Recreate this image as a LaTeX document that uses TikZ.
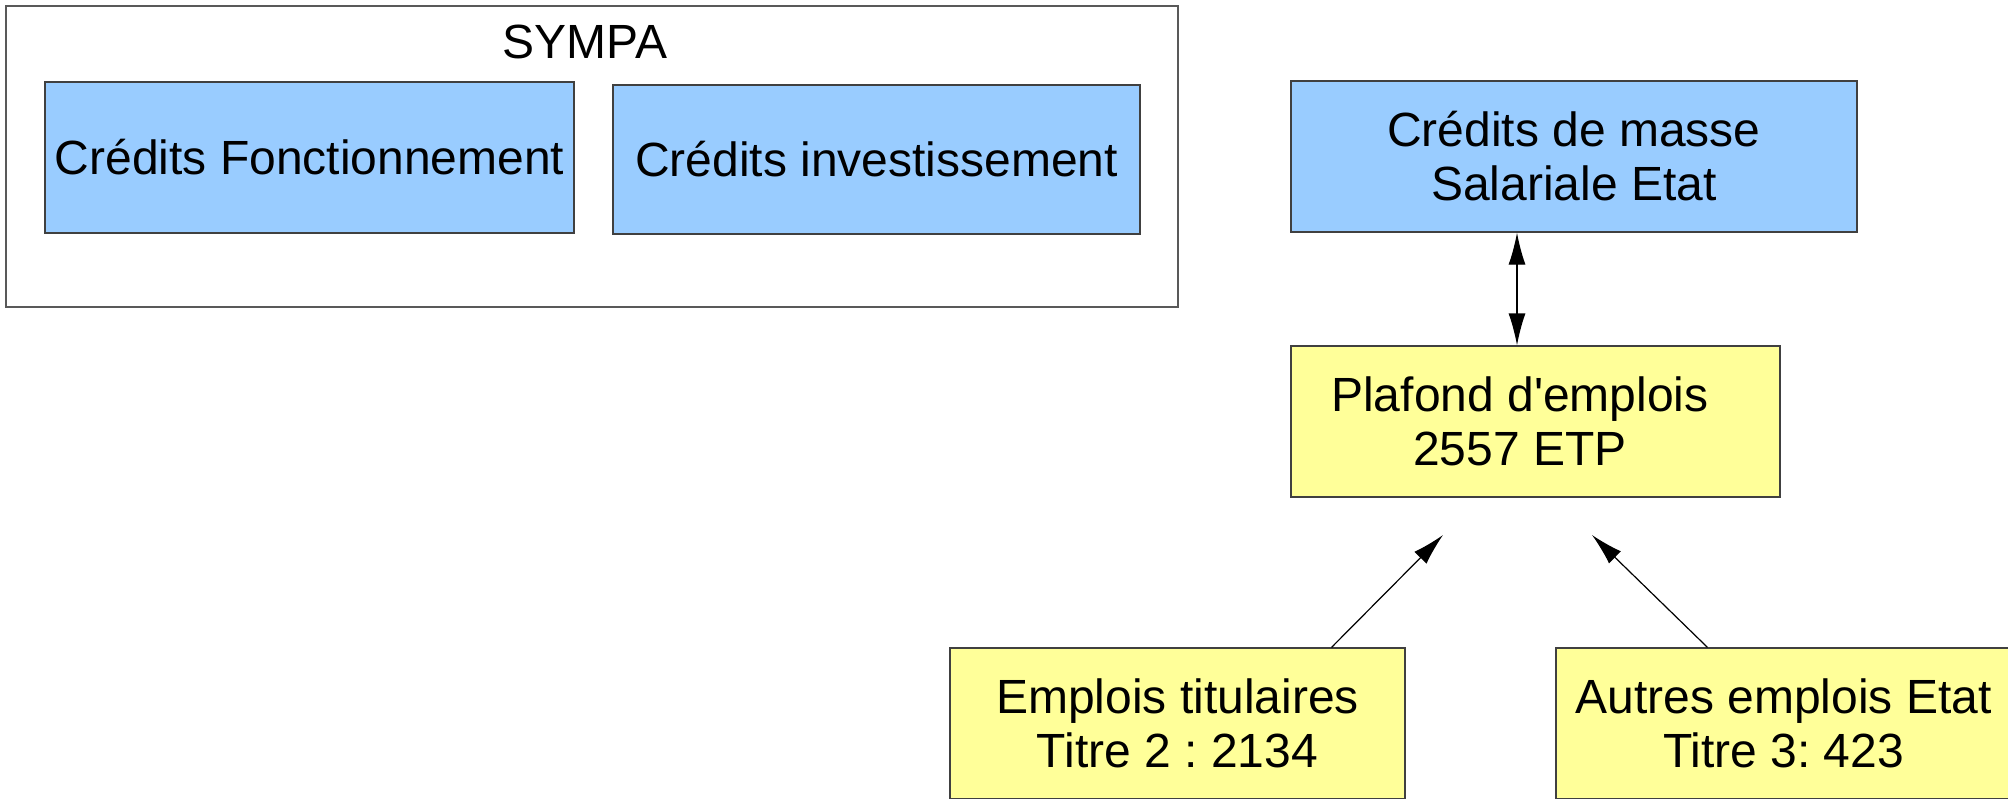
\documentclass[tikz,border=0pt]{standalone}
\usepackage{fontspec}
\setmainfont{Liberation Sans}[Ligatures=TeXOff]
\usetikzlibrary{arrows.meta}
\frenchspacing

\definecolor{bleuc}{RGB}{153,204,255}
\definecolor{jaunec}{RGB}{255,255,153}

\tikzset{every picture/.style={line width=0.6pt}}
\tikzset{
  boite/.style={draw=black!75, minimum width=#1, minimum height=75.5pt, inner sep=0pt, align=center, font=\fontsize{24}{27}\selectfont},
  credit/.style={boite=#1, fill=bleuc},
  emploi/.style={boite=#1, fill=jaunec},
  fleche/.style={-{Latex[length=16pt,width=8.5pt]}, black},
  dfleche/.style={{Latex[length=16pt,width=8.5pt]}-{Latex[length=16pt,width=8.5pt]}, black}
}

\begin{document}
\begin{tikzpicture}[x=0.5pt,y=0.5pt,yscale=-1,xscale=1]
\useasboundingbox (0,0) rectangle (2008,798);

%Shape: Rectangle SYMPA
\node [draw=black!65, minimum width=586pt, minimum height=150.5pt, inner sep=0pt] (sympa) at (592,156.5) {};
% Text Node
\node [anchor=north, inner sep=0pt, font=\fontsize{24}{27}\selectfont] (titre) at (585,24) {SYMPA};

%Shape: Rectangle
\node [credit=264.5pt] (fonct) at (309.5,157.5) {Crédits Fonctionnement};
%Shape: Rectangle
\node [credit=263.5pt, minimum height=74.5pt] (invest) at (876.5,159.5) {Crédits investissement};
%Shape: Rectangle
\node [credit=283pt] (masse) at (1574,156.5) {Crédits de masse\\ Salariale Etat};

%Shape: Rectangle
\node [emploi=244.5pt] (plafond) at (1535.5,421.5) {};
% Text Node
\node [align=center, inner sep=0pt, font=\fontsize{24}{27}\selectfont] (plafondtxt) at (1520,421.5) {Plafond d'emplois\\2557 ETP};
%Shape: Rectangle
\node [emploi=227.5pt] (titulaires) at (1177.5,723.5) {Emplois titulaires\\Titre 2 : 2134};
%Shape: Rectangle
\node [emploi=227.5pt] (autres) at (1783.5,723.5) {Autres emplois Etat\\Titre 3: 423};

%Straight Lines
\coordinate (pointe1) at (1443,535);
\coordinate (pointe2) at (1592,535);
\draw [dfleche] ([xshift=-9.25pt]plafond.north) -- ([xshift=-9.25pt]plafond.north |- masse.south);
\draw [fleche] ([xshift=77pt]titulaires.north) -- (pointe1);
\draw [fleche] ([xshift=-38pt]autres.north) -- (pointe2);

\end{tikzpicture}
\end{document}
